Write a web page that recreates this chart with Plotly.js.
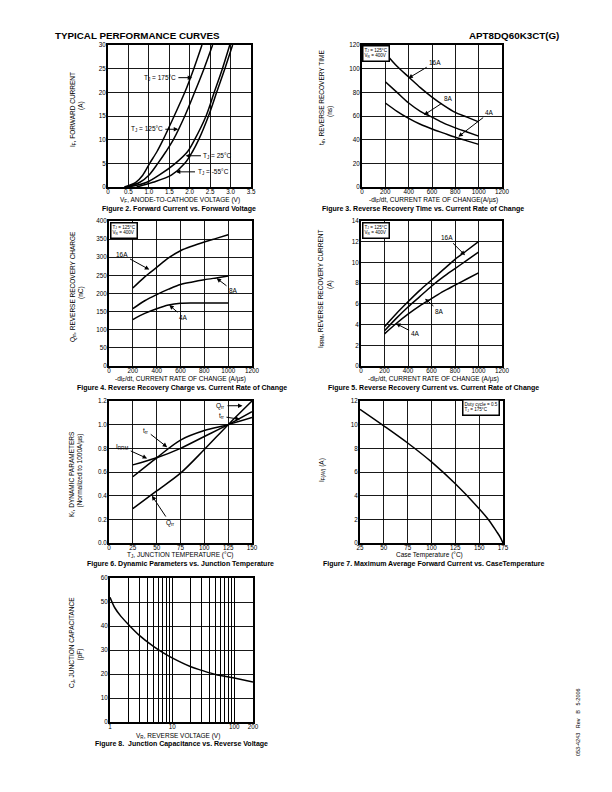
<!DOCTYPE html>
<html><head><meta charset="utf-8">
<script src="https://cdn.plot.ly/plotly-3.0.1.min.js"></script>
<style>html,body{margin:0;padding:0;background:#fff}#c{width:612px;height:792px}</style>
</head><body><div id="c"></div>
<script>
// ---------- DATA ----------
// Figure 2: forward voltage (V) at given forward currents (A)
const fig2Current = [0, 1, 2.5, 5, 7.5, 10, 15, 20, 25, 30];
const fig2Vf175 = [0.40, 0.68, 0.85, 1.02, 1.20, 1.35, 1.62, 1.88, 2.10, 2.30];
const fig2Vf125 = [0.45, 0.78, 1.00, 1.22, 1.42, 1.60, 1.88, 2.12, 2.35, 2.56];
const fig2Vf25  = [0.50, 0.95, 1.25, 1.65, 1.95, 2.12, 2.40, 2.60, 2.80, 2.98];
const fig2VfM55 = [0.70, 1.10, 1.55, 1.88, 2.07, 2.22, 2.46, 2.66, 2.86, 3.05];
const fig2XTicks = ["0", "0.5", "1.0", "1.5", "2.0", "2.5", "3.0", "3.5"];
const fig2XVals = [0, 0.5, 1, 1.5, 2, 2.5, 3, 3.5];

// Figures 3-5: current rate of change (A/us)
const diDt = [200, 300, 400, 500, 600, 700, 800, 900, 1000];
const trr16A = [113, 102, 93, 84, 76, 69, 63, 59, 55];
const trr8A  = [89, 80, 71, 64, 59, 54, 50, 46.5, 43];
const trr4A  = [71, 64, 58, 53, 49, 45.5, 42, 39, 36];
const qrr16A = [215, 246, 272, 298, 318, 331, 342, 352, 362];
const qrr8A  = [158, 180, 197, 212, 225, 232, 238, 243, 248];
const qrr4A  = [128, 145, 158, 168, 173, 174, 174, 174, 174];
const irrm16A = [3.8, 5.05, 6.2, 7.3, 8.3, 9.3, 10.3, 11.15, 12];
const irrm8A  = [3.4, 4.6, 5.7, 6.7, 7.7, 8.6, 9.4, 10.2, 11];
const irrm4A  = [3.1, 4.1, 5.0, 5.8, 6.5, 7.2, 7.8, 8.4, 9];

// Figure 6: normalized dynamic parameters vs junction temperature
const fig6Tj = [25, 50, 75, 100, 125, 150];
const kTrr  = [0.56, 0.72, 0.87, 0.95, 1.00, 1.06];
const kIrrm = [0.66, 0.72, 0.80, 0.90, 1.00, 1.11];
const kQrr  = [0.29, 0.44, 0.59, 0.79, 1.00, 1.20];
const fig6YTicks = ["0.0", "0.2", "0.4", "0.6", "0.8", "1.0", "1.2"];
const fig6YVals = [0, 0.2, 0.4, 0.6, 0.8, 1.0, 1.2];

// Figure 7: max average forward current vs case temperature
const fig7Tc = [25, 50, 75, 100, 125, 150, 160, 168, 172, 175];
const fig7If = [11.3, 9.9, 8.45, 6.85, 5.0, 2.9, 1.95, 1.0, 0.5, 0];

// Figure 8: junction capacitance vs reverse voltage
const fig8Vr = [1, 1.2, 1.5, 2, 3, 5, 7, 10, 20, 30, 50, 100, 200];
const fig8Cj = [52, 47.5, 44, 40.5, 36, 31.5, 29, 26.7, 23, 21.5, 19.8, 18.3, 16.7];
const fig8XVals = [1, 10, 100, 200];
const fig8XText = ["1", "10", "100", "200"];

// ---------- LAYOUT HELPERS ----------
const F = "Liberation Sans, Arial, sans-serif";
const W = 612, H = 792;
const px = v => v / W;
const py = v => 1 - v / H;
const TF = {family: F, size: 6.3, color: "#000"};

function axis(x0, x1, range, extra) {
  return Object.assign({
    domain: [x0, x1], range: range, showline: true, mirror: true,
    linecolor: "#000", linewidth: 2, showgrid: true, gridcolor: "#000",
    gridwidth: 0.9, zeroline: false, ticks: "", tickfont: TF,
    fixedrange: true
  }, extra || {});
}
const XS = {ticklabelstandoff: -3};
const YS = {ticklabelstandoff: -1};

const line = (x, y, xa, ya) => ({
  x: x, y: y, xaxis: xa, yaxis: ya, type: "scatter", mode: "lines",
  line: {color: "#000", width: 1.5, shape: "spline", smoothing: 0.9},
  hoverinfo: "skip", showlegend: false
});

const traces = [
  line(fig2Vf175, fig2Current, "x", "y"),
  line(fig2Vf125, fig2Current, "x", "y"),
  line(fig2Vf25, fig2Current, "x", "y"),
  line(fig2VfM55, fig2Current, "x", "y"),
  line(diDt, trr16A, "x2", "y2"),
  line(diDt, trr8A, "x2", "y2"),
  line(diDt, trr4A, "x2", "y2"),
  line(diDt, qrr16A, "x3", "y3"),
  line(diDt, qrr8A, "x3", "y3"),
  line(diDt, qrr4A, "x3", "y3"),
  line(diDt, irrm16A, "x4", "y4"),
  line(diDt, irrm8A, "x4", "y4"),
  line(diDt, irrm4A, "x4", "y4"),
  line(fig6Tj, kTrr, "x5", "y5"),
  line(fig6Tj, kIrrm, "x5", "y5"),
  line(fig6Tj, kQrr, "x5", "y5"),
  line(fig7Tc, fig7If, "x6", "y6"),
  line(fig8Vr, fig8Cj, "x7", "y7")
];

// plot frames (page pixels)
const Y1 = [45, 187], Y2 = [221, 366], Y3 = [401, 543], Y4 = [578, 722];
const yd = r => [py(r[1]), py(r[0])];
const ax = (a, b) => Object.assign({}, a, b);

const layout = {
  width: W, height: H, margin: {l: 0, r: 0, t: 0, b: 0},
  paper_bgcolor: "#fff", plot_bgcolor: "#fff", showlegend: false,
  font: {family: F, color: "#000"},
  xaxis:  axis(px(108), px(251), [0, 3.5], ax(XS, {anchor: "y", tickvals: fig2XVals, ticktext: fig2XTicks})),
  yaxis:  axis(yd(Y1)[0], yd(Y1)[1], [0, 30], ax(YS, {anchor: "x", dtick: 5})),
  xaxis2: axis(px(362), px(502), [0, 1200], ax(XS, {anchor: "y2", dtick: 200})),
  yaxis2: axis(yd(Y1)[0], yd(Y1)[1], [0, 120], ax(YS, {anchor: "x2", dtick: 20})),
  xaxis3: axis(px(109), px(252), [0, 1200], ax(XS, {anchor: "y3", dtick: 200})),
  yaxis3: axis(yd(Y2)[0], yd(Y2)[1], [0, 400], ax(YS, {anchor: "x3", dtick: 50})),
  xaxis4: axis(px(361), px(502), [0, 1200], ax(XS, {anchor: "y4", dtick: 200})),
  yaxis4: axis(yd(Y2)[0], yd(Y2)[1], [0, 14], ax(YS, {anchor: "x4", dtick: 2})),
  xaxis5: axis(px(109), px(252), [0, 150], ax(XS, {anchor: "y5", dtick: 25})),
  yaxis5: axis(yd(Y3)[0], yd(Y3)[1], [0, 1.2], ax(YS, {anchor: "x5", tickvals: fig6YVals, ticktext: fig6YTicks})),
  xaxis6: axis(px(360), px(503), [25, 175], ax(XS, {anchor: "y6", dtick: 25, tick0: 25})),
  yaxis6: axis(yd(Y3)[0], yd(Y3)[1], [0, 12], ax(YS, {anchor: "x6", dtick: 2})),
  xaxis7: axis(px(110), px(253), [0, Math.log10(200)], ax(XS, {anchor: "y7", type: "log",
           tickvals: fig8XVals, ticktext: fig8XText, gridwidth: 1.2,
           minor: {dtick: "D1", showgrid: true, gridcolor: "#000", gridwidth: 1.2, ticks: ""}})),
  yaxis7: axis(yd(Y4)[0], yd(Y4)[1], [0, 60], ax(YS, {anchor: "x7", dtick: 10})),
  annotations: []
};

const A = layout.annotations;
function ptext(text, x, y, opts) {
  A.push(Object.assign({
    text: text, x: px(x), y: py(y), xref: "paper", yref: "paper",
    showarrow: false, xanchor: "center", yanchor: "middle",
    font: {family: F, size: 6.5, color: "#000"}
  }, opts || {}));
}
function cap(text, x, y) {
  ptext("<b>" + text + "</b>", x, y, {font: {family: F, size: 7, color: "#000"}});
}
function lab(text, n, tx, ty, hx, hy) {
  const s = n === 1 ? "" : String(n);
  A.push({
    text: text, xref: "x" + s, yref: "y" + s, axref: "x" + s, ayref: "y" + s,
    x: hx, y: hy, ax: tx, ay: ty, showarrow: true,
    arrowhead: 2, arrowsize: 0.9, arrowwidth: 1, arrowcolor: "#000",
    standoff: 0, startstandoff: 1,
    font: {family: F, size: 6.5, color: "#000"}
  });
}
function inset(text, x, y) {
  A.push({
    text: text, x: px(x), y: py(y), xref: "paper", yref: "paper",
    xanchor: "left", yanchor: "top", showarrow: false, align: "left",
    bgcolor: "#fff", bordercolor: "#000", borderwidth: 1.5, borderpad: 1,
    font: {family: F, size: 4.6, color: "#000"}
  });
}

// header + side text
ptext("<b>TYPICAL PERFORMANCE CURVES</b>", 53, 36, {xanchor: "left", font: {family: F, size: 9.8, color: "#000"}});
ptext("<b>APT8DQ60K3CT(G)</b>", 561, 36, {xanchor: "right", font: {family: F, size: 9.8, color: "#000"}});
ptext("053-4243   Rev   B   5-2006", 578, 722, {textangle: -90, font: {family: F, size: 5.5, color: "#000"}});

// Figure 2
ptext("I<sub>F</sub>, FORWARD CURRENT", 73, 110, {textangle: -90});
ptext("(A)", 81, 106, {textangle: -90});
ptext("V<sub>F</sub>, ANODE-TO-CATHODE VOLTAGE (V)", 180, 200.5);
cap("Figure 2. Forward Current vs. Forward Voltage", 179, 209.5);
lab("T<sub>J</sub> = 175°C", 1, 1.27, 23.1, 2.06, 23.1);
lab("T<sub>J</sub> = 125°C", 1, 0.95, 12.2, 1.72, 12.2);
lab("T<sub>J</sub> = 25°C", 1, 2.69, 6.6, 1.9, 6.6);
lab("T<sub>J</sub> = -55°C", 1, 2.57, 3.2, 1.66, 3.2);

// Figure 3
ptext("t<sub>rr</sub>, REVERSE RECOVERY TIME", 322, 98, {textangle: -90});
ptext("(ns)", 330, 112, {textangle: -90});
ptext("-di<sub>F</sub>/dt, CURRENT RATE OF CHANGE(A/µs)", 433, 200.5);
cap("Figure 3. Reverse Recovery Time vs. Current Rate of Change", 423, 209.5);
inset("T<sub>J</sub> = 125°C<br>V<sub>R</sub> = 400V", 362, 45);
lab("16A", 2, 626, 105.4, 397, 91.9);
lab("8A", 2, 740, 74.4, 531, 60.8);
lab("4A", 2, 1097, 63.1, 826, 42.5);

// Figure 4
ptext("Q<sub>rr</sub>, REVERSE RECOVERY CHARGE", 73, 287, {textangle: -90});
ptext("(nC)", 81, 293, {textangle: -90});
ptext("-di<sub>F</sub>/dt, CURRENT RATE OF CHANGE (A/µs)", 180, 379);
cap("Figure 4. Reverse Recovery Charge vs. Current Rate of Change", 182, 388);
inset("T<sub>J</sub> = 125°C<br>V<sub>R</sub> = 400V", 110, 222);
lab("16A", 3, 106, 308, 338, 266);
lab("8A", 3, 1043, 207, 903, 242);
lab("4A", 3, 629, 133, 506, 168);

// Figure 5
ptext("I<sub>RRM</sub>, REVERSE RECOVERY CURRENT", 321, 289, {textangle: -90});
ptext("(A)", 330, 285, {textangle: -90});
ptext("-di<sub>F</sub>/dt, CURRENT RATE OF CHANGE (A/µs)", 433, 379);
cap("Figure 5. Reverse Recovery Current vs. Current Rate of Change", 433, 388);
inset("T<sub>J</sub> = 125°C<br>V<sub>R</sub> = 400V", 362, 222);
lab("16A", 4, 735, 12.4, 885, 10.7);
lab("8A", 4, 672, 5.25, 545, 6.5);
lab("4A", 4, 468, 3.1, 298, 4.1);

// Figure 6
ptext("K<sub>f</sub>, DYNAMIC PARAMETERS", 72, 474, {textangle: -90});
ptext("(Normalized to 1000A/µs)", 79.5, 471, {textangle: -90});
ptext("T<sub>J</sub>, JUNCTION TEMPERATURE (°C)", 180, 555);
cap("Figure 6. Dynamic Parameters vs. Junction Temperature", 180, 564);
lab("t<sub>rr</sub>", 5, 38.8, 0.95, 61, 0.81);
lab("I<sub>RRM</sub>", 5, 14, 0.81, 40, 0.715);
lab("Q<sub>rr</sub>", 5, 64, 0.17, 45, 0.40);
lab("Q<sub>rr</sub>", 5, 117, 1.16, 140, 1.16);
lab("t<sub>rr</sub>", 5, 118, 1.07, 137.5, 1.045);

// Figure 7
ptext("I<sub>F(AV)</sub> (A)", 322, 470, {textangle: -90});
ptext("Case Temperature (°C)", 430, 555);
cap("Figure 7. Maximum Average Forward Current vs. CaseTemperature", 434, 564);
inset("Duty cycle = 0.5<br>T<sub>J</sub> = 175°C", 462, 399);

// Figure 8
ptext("C<sub>J</sub>, JUNCTION CAPACITANCE", 72, 643, {textangle: -90});
ptext("(pF)", 79.5, 655, {textangle: -90});
ptext("V<sub>R</sub>, REVERSE VOLTAGE (V)", 178, 735.5);
cap("Figure 8.  Junction Capacitance vs. Reverse Voltage", 181, 743.5);

Plotly.newPlot("c", traces, layout, {staticPlot: true, displayModeBar: false});
</script>
</body></html>
